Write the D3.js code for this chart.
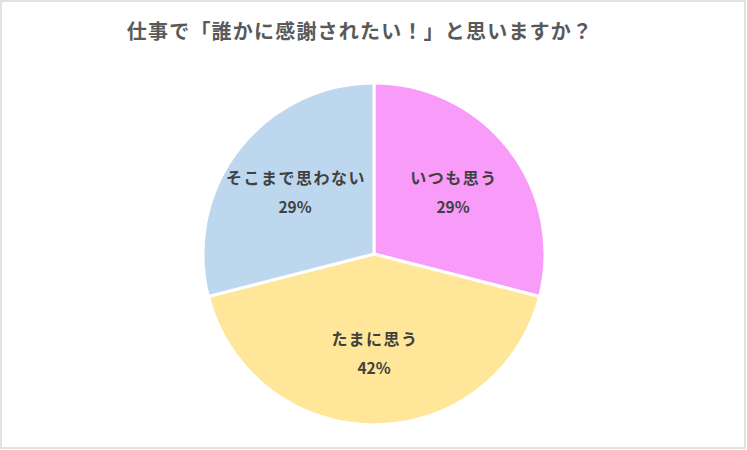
<!DOCTYPE html>
<html lang="ja">

<head>
    <meta charset="UTF-8">
    <title>仕事で「誰かに感謝されたい！」と思いますか？</title>
    <script src="https://d3js.org/d3.v7.min.js"></script>
    <style>
        body {
            margin: 0;
            background: #fff;
            font-family: "Noto Sans CJK JP", "Noto Sans", sans-serif;
        }
    </style>
</head>

<body>
    <div id="chart"></div>

    <script>
        // Chart data
        const title = "仕事で「誰かに感謝されたい！」と思いますか？";
        const categories = ["いつも思う", "たまに思う", "そこまで思わない"];
        const values = [29, 42, 29];
        const colors = ["#F99BF9", "#FFE699", "#BDD7EE"];

        const width = 747, height = 450;
        const cx = 374, cy = 254, radius = 171;

        const svg = d3.select("#chart")
            .append("svg")
            .attr("width", width)
            .attr("height", height);

        // Outer frame
        svg.append("rect")
            .attr("x", 1)
            .attr("y", 1)
            .attr("width", width - 3)
            .attr("height", height - 3)
            .attr("fill", "#fff")
            .attr("stroke", "#D9D9D9")
            .attr("stroke-width", 1.5);

        svg.append("text")
            .attr("x", 360)
            .attr("y", 39)
            .attr("text-anchor", "middle")
            .attr("fill", "#595959")
            .style("font-size", "20px")
            .style("font-weight", "bold")
            .style("letter-spacing", "1.2px")
            .text(title);

        const g = svg.append("g")
            .attr("transform", `translate(${cx},${cy})`);

        const pie = d3.pie().sort(null).value(d => d)(values);
        const arc = d3.arc().innerRadius(0).outerRadius(radius);
        const labelArc = d3.arc().innerRadius(100).outerRadius(100);

        g.selectAll("path")
            .data(pie)
            .enter()
            .append("path")
            .attr("d", arc)
            .attr("fill", (d, i) => colors[i])
            .attr("stroke", "white")
            .style("stroke-width", "3px");

        const total = d3.sum(values);
        const labels = g.selectAll("g.label")
            .data(pie)
            .enter()
            .append("g")
            .attr("class", "label")
            .attr("transform", d => `translate(${labelArc.centroid(d)})`);

        labels.append("text")
            .attr("x", 1)
            .attr("y", -9)
            .attr("text-anchor", "middle")
            .attr("fill", "#404040")
            .style("font-size", "16px")
            .style("font-weight", "bold")
            .style("letter-spacing", "1.5px")
            .text((d, i) => categories[i]);

        labels.append("text")
            .attr("y", 20)
            .attr("text-anchor", "middle")
            .attr("fill", "#404040")
            .style("font-size", "15.5px")
            .style("font-weight", "bold")
            .text(d => Math.round(d.data / total * 100) + "%");
    </script>
</body>

</html>
